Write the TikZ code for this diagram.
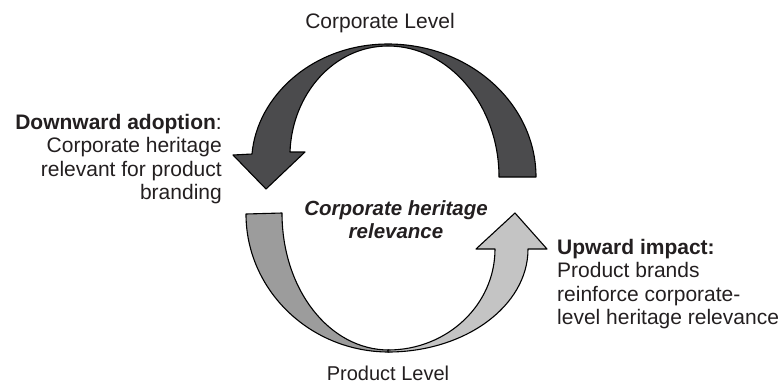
\documentclass[tikz,border=0pt]{standalone}
\usepackage{fontspec}
\setmainfont{Liberation Sans}
\definecolor{darkfill}{HTML}{4B4B4D}
\definecolor{midfill}{HTML}{9C9C9C}
\definecolor{lightfill}{HTML}{C4C4C4}
\definecolor{txt}{HTML}{231F20}
\begin{document}
\begin{tikzpicture}[x=1pt,y=-1pt,
  band/.style={draw=black, line width=1.1pt, line join=round},
  lbl/.style={inner sep=0pt, text=txt, font=\fontsize{21}{23.5}\selectfont}]
\useasboundingbox (0,0) rectangle (784,384);
% top arrow (downward adoption)
\draw[band, fill=darkfill] (536,177) .. controls (536,104) and (470,44) .. (388,44)
  .. controls (313,44) and (257,96) .. (252,154) -- (233,155) -- (266,189) -- (305,152) -- (290,152)
  .. controls (292,94) and (334,46) .. (388,46)
  .. controls (449,46) and (499,105) .. (499,177) -- cycle;
% bottom left band
\draw[band, fill=midfill] (246,214) -- (282,213) .. controls (282,289) and (329,350) .. (389,350)
  -- (389,352) .. controls (310,352) and (246,290) .. (246,214) -- cycle;
% bottom right arrow (upward impact)
\draw[band, fill=lightfill] (388,350) .. controls (447,350) and (495,305) .. (495,249)
  -- (476,249) -- (515,213) -- (547,249) -- (528,249)
  .. controls (528,306) and (465,352) .. (388,352) -- cycle;
% labels
\node[lbl, anchor=base] (corp) at (380,28) {Corporate Level};
\node[lbl, anchor=base, font=\fontsize{20}{23.5}\selectfont] (prod) at (388,380) {Product Level};
\node[lbl, anchor=north, align=center, font=\fontsize{20.5}{23.5}\selectfont\bfseries\itshape] (rel) at (396,200) {Corporate heritage\\relevance};
\node[lbl, anchor=north east, align=right] (down) at (222,114) {\textbf{Downward adoption}:\\Corporate heritage\\relevant for product\\branding};
\node[lbl, anchor=north west, align=left] (up) at (557,239) {\textbf{Upward impact:}\\Product brands\\reinforce corporate-\\level heritage relevance};
\end{tikzpicture}
\end{document}
